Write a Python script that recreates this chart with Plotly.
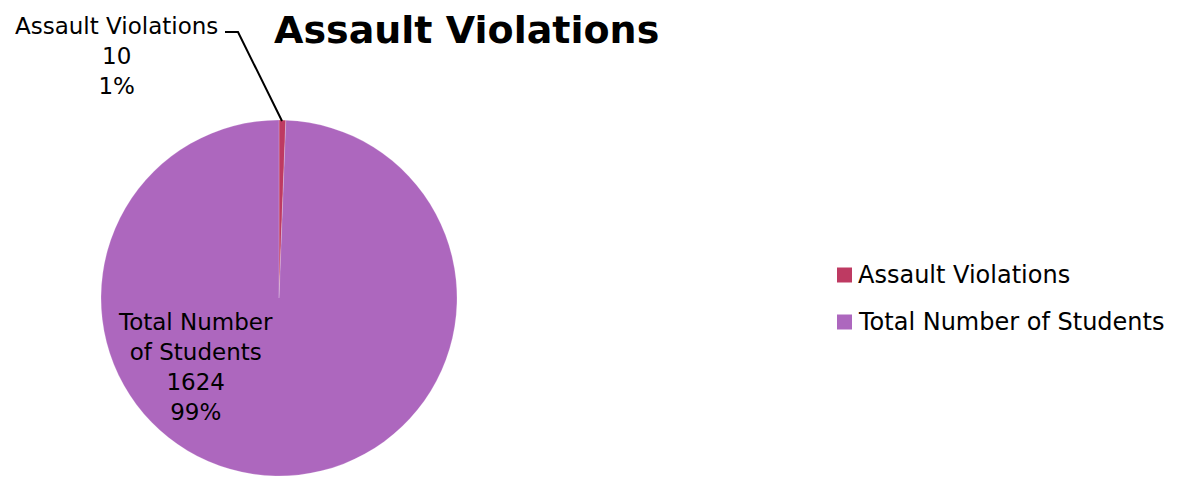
import plotly.graph_objects as go

labels = ["Assault Violations", "Total Number of Students"]
values = [10, 1624]
colors = ["#BE3A62", "#AD67BE"]
title = "Assault Violations"

W, H = 1184, 484
OFF = 8  # page body margin
FONT = "DejaVu Sans, sans-serif"

def px(x):
    return (x - OFF) / W

def py(y):
    return 1 - (y - OFF) / H

total = sum(values)
pcts = [round(v / total * 100) for v in values]

cx, cy, r = 279, 298, 178

fig = go.Figure(go.Pie(
    labels=labels, values=values, sort=False,
    direction="clockwise", rotation=0,
    marker=dict(colors=colors, line=dict(color="rgba(255,255,255,0.35)", width=0.6)),
    textinfo="none", hoverinfo="label+value+percent", showlegend=False,
    domain=dict(x=[px(cx - r), px(cx + r)], y=[py(cy + r), py(cy - r)]),
))

annotations = []
annotations.append(dict(text="<b>%s</b>" % title, x=px(466), y=py(30), xref="paper", yref="paper",
                        showarrow=False, xanchor="center", yanchor="middle",
                        font=dict(family=FONT, size=38, color="#000")))
annotations.append(dict(text="%s<br>%d<br>%d%%" % (labels[0], values[0], pcts[0]),
                        x=px(116), y=py(56), xref="paper", yref="paper", showarrow=False,
                        xanchor="center", yanchor="middle", align="center",
                        font=dict(family=FONT, size=23, color="#000")))
annotations.append(dict(text="Total Number<br>of Students<br>%d<br>%d%%" % (values[1], pcts[1]),
                        x=px(195), y=py(367), xref="paper", yref="paper", showarrow=False,
                        xanchor="center", yanchor="middle", align="center",
                        font=dict(family=FONT, size=23, color="#000")))
shapes = []
leg_y = [275, 322]
for i, lab in enumerate(labels):
    y = leg_y[i]
    shapes.append(dict(type="rect", xref="paper", yref="paper",
                       x0=px(837), x1=px(852), y0=py(y + 7.5), y1=py(y - 7.5),
                       fillcolor=colors[i], line=dict(width=0)))
    annotations.append(dict(text=lab, x=px(856), y=py(y), xref="paper", yref="paper",
                            showarrow=False, xanchor="left", yanchor="middle",
                            font=dict(family=FONT, size=24, color="#000")))
shapes.append(dict(type="path", xref="paper", yref="paper",
                   path="M %f,%f L %f,%f L %f,%f" % (px(282), py(121), px(238), py(32), px(225), py(32)),
                   line=dict(color="#000", width=2)))

fig.update_layout(width=W, height=H, margin=dict(l=0, r=0, t=0, b=0),
                  paper_bgcolor="white", plot_bgcolor="white",
                  annotations=annotations, shapes=shapes)
fig.write_html("out.html")
